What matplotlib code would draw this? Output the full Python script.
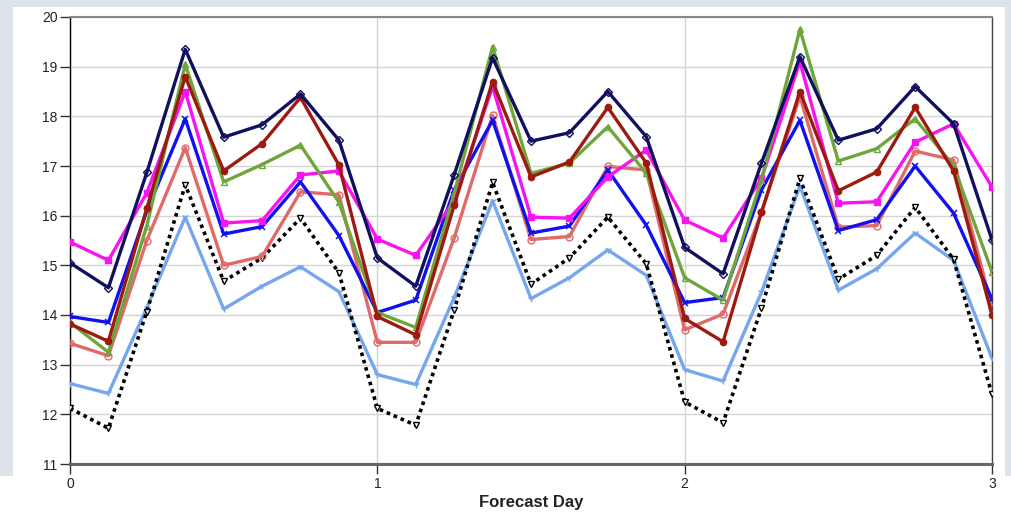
import matplotlib
matplotlib.use("Agg")
import matplotlib.pyplot as plt
from matplotlib.patches import Rectangle

plt.rcParams['font.family'] = ['Liberation Sans', 'DejaVu Sans']

days = [0, 0.125, 0.25, 0.375, 0.5, 0.625, 0.75, 0.875,
        1.0, 1.125, 1.25, 1.375, 1.5, 1.625, 1.75, 1.875,
        2.0, 2.125, 2.25, 2.375, 2.5, 2.625, 2.75, 2.875, 3.0]

navy = [15.05, 14.55, 16.87, 19.35, 17.58, 17.83, 18.45, 17.52,
        15.15, 14.58, 16.82, 19.18, 17.50, 17.67, 18.50, 17.59,
        15.36, 14.83, 17.06, 19.20, 17.52, 17.75, 18.60, 17.85, 15.51]
darkred = [13.82, 13.47, 16.15, 18.80, 16.90, 17.45, 18.38, 17.02,
           13.97, 13.60, 16.21, 18.70, 16.78, 17.08, 18.18, 17.06,
           13.93, 13.46, 16.07, 18.50, 16.50, 16.88, 18.18, 16.90, 14.00]
green = [13.85, 13.25, 15.80, 19.05, 16.68, 17.03, 17.42, 16.27,
         14.05, 13.75, 16.45, 19.40, 16.85, 17.06, 17.79, 16.86,
         14.75, 14.30, 16.72, 19.75, 17.10, 17.35, 17.95, 17.00, 14.87]
magenta = [15.47, 15.10, 16.46, 18.50, 15.85, 15.90, 16.82, 16.90,
           15.53, 15.20, 16.30, 18.60, 15.97, 15.95, 16.78, 17.32,
           15.91, 15.55, 16.75, 19.10, 16.25, 16.28, 17.48, 17.85, 16.58]
blue = [13.97, 13.85, 16.10, 17.95, 15.63, 15.78, 16.68, 15.60,
        14.05, 14.30, 16.52, 17.92, 15.65, 15.79, 16.92, 15.81,
        14.25, 14.35, 16.52, 17.92, 15.70, 15.92, 17.00, 16.05, 14.32]
salmon = [13.43, 13.18, 15.50, 17.37, 15.00, 15.18, 16.48, 16.42,
          13.45, 13.45, 15.55, 18.02, 15.52, 15.58, 16.99, 16.92,
          13.70, 14.02, 16.07, 18.40, 15.77, 15.80, 17.30, 17.12, 14.15]
lightblue = [12.62, 12.42, 14.15, 15.97, 14.12, 14.58, 14.97, 14.47,
             12.80, 12.60, 14.35, 16.30, 14.33, 14.75, 15.31, 14.80,
             12.90, 12.67, 14.46, 16.60, 14.50, 14.93, 15.65, 15.10, 13.13]
black = [12.12, 11.72, 14.07, 16.62, 14.68, 15.15, 15.95, 14.85,
         12.12, 11.78, 14.10, 16.67, 14.62, 15.15, 15.97, 15.03,
         12.25, 11.83, 14.14, 16.75, 14.72, 15.20, 16.17, 15.12, 12.40]

yticks = [11, 12, 13, 14, 15, 16, 17, 18, 19, 20]
xticks = [0, 1, 2, 3]

fig = plt.figure(figsize=(10.12, 5.13), dpi=100)
fig.patch.set_facecolor('#dde3eb')
# white panels behind the axes
fig.patches.append(Rectangle((13/1012, 0), (1005-13)/1012, 1 - 7/513,
                             transform=fig.transFigure, facecolor='white',
                             edgecolor='none', zorder=-5))
fig.patches.append(Rectangle((0, 0), 1, (513-476)/513,
                             transform=fig.transFigure, facecolor='white',
                             edgecolor='none', zorder=-5))

ax = fig.add_axes([70/1012, (513-464)/513, 922/1012, 447/513])
ax.set_facecolor('white')
ax.set_zorder(2)

lw = 2.4
ax.plot(days, lightblue, color='#76a6ee', lw=lw, marker='1', ms=5, mew=1, zorder=3)
ax.plot(days, black, color='black', lw=2.6, linestyle=(0, (1, 1.1)), marker='v',
        ms=5, mfc='white', mec='black', mew=1, zorder=3)
ax.plot(days, salmon, color='#e06a6a', lw=lw, marker='o', ms=5, mfc='none',
        mec='#e06a6a', mew=1, zorder=4)
ax.plot(days, blue, color='#1010f0', lw=lw, marker='x', ms=5, mew=1.1, zorder=5)
ax.plot(days, magenta, color='#f814f0', lw=lw, marker='s', ms=4.5, zorder=5)
ax.plot(days, green, color='#6fa63c', lw=lw, marker='^', ms=5, mfc='none',
        mec='#6fa63c', mew=1, zorder=6)
ax.plot(days, darkred, color='#9c1a10', lw=lw, marker='o', ms=4.5, zorder=6)
ax.plot(days, navy, color='#10105e', lw=lw, marker='D', ms=4, mfc='none',
        mec='#10105e', mew=1, zorder=7)

ax.set_xlim(0, 3)
ax.set_ylim(11, 20)
ax.set_xticks(xticks)
ax.set_yticks(yticks)
ax.set_xticklabels([str(v) for v in xticks])
ax.set_yticklabels([str(v) for v in yticks])
ax.tick_params(axis='both', labelsize=10, length=7, width=1, color='#333333',
               colors='#222222', pad=2)
ax.grid(True, color='#d4d4d4', lw=1, zorder=0)
ax.set_axisbelow(True)

ax.spines['left'].set_color('black')
ax.spines['left'].set_linewidth(1)
ax.spines['bottom'].set_color('#666666')
ax.spines['bottom'].set_linewidth(2.2)
ax.spines['top'].set_color('#888888')
ax.spines['top'].set_linewidth(1.5)
ax.spines['right'].set_color('#444444')
ax.spines['right'].set_linewidth(1)

ax.set_xlabel('Forecast Day', fontsize=12, fontweight='bold', color='#222222', labelpad=3)

fig.savefig('out.png', dpi=100, facecolor=fig.get_facecolor())
